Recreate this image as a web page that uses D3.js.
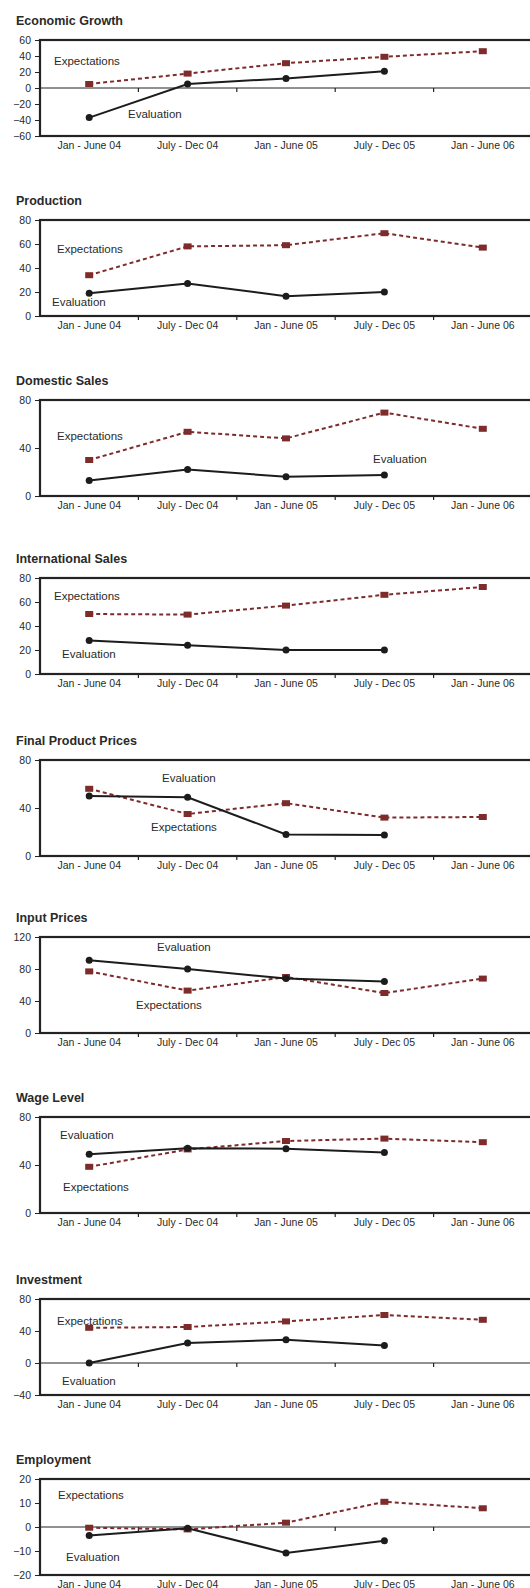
<!DOCTYPE html>
<html>
<head>
<meta charset="utf-8">
<script src="https://cdn.jsdelivr.net/npm/d3@7"></script>
<style>
  body { margin: 0; background: #fff; }
  svg { display: block; font-family: "Liberation Sans", Arial, sans-serif; }
</style>
</head>
<body>
<div id="chart"></div>
<script>
// ---- data ----
const periods = ["Jan - June 04", "July - Dec 04", "Jan - June 05", "July - Dec 05", "Jan - June 06"];

const titles = ["Economic Growth", "Production", "Domestic Sales", "International Sales",
  "Final Product Prices", "Input Prices", "Wage Level", "Investment", "Employment"];

// expectations (5 periods) and evaluation (4 periods), one array per panel
const expGrowth = [5, 18, 31, 39, 46];
const evalGrowth = [-37, 5, 12, 21];
const expProduction = [34, 58, 59, 69, 57];
const evalProduction = [19, 27, 16.5, 20];
const expDomestic = [30, 53.5, 48, 69.5, 56];
const evalDomestic = [13, 22, 16, 17.5];
const expInternational = [50, 49.5, 57, 66, 72.5];
const evalInternational = [28, 24, 20, 20];
const expFinalPrices = [56, 35, 44, 32, 32.5];
const evalFinalPrices = [50, 49, 18, 17.5];
const expInputPrices = [77, 53, 70, 50, 68];
const evalInputPrices = [91, 80, 68, 64.5];
const expWage = [38.5, 53, 60, 62, 59];
const evalWage = [49, 54, 53.5, 50.5];
const expInvestment = [44, 45, 52, 60, 54];
const evalInvestment = [0, 25, 29, 22];
const expEmployment = [-0.3, -1, 1.8, 10.5, 7.8];
const evalEmployment = [-3.5, -0.5, -10.8, -5.7];

// y axis ticks per panel
const ticksGrowth = [-60, -40, -20, 0, 20, 40, 60];
const ticksProduction = [0, 20, 40, 60, 80];
const ticksDomestic = [0, 40, 80];
const ticksInternational = [0, 20, 40, 60, 80];
const ticksFinalPrices = [0, 40, 80];
const ticksInputPrices = [0, 40, 80, 120];
const ticksWage = [0, 40, 80];
const ticksInvestment = [-40, 0, 40, 80];
const ticksEmployment = [-20, -10, 0, 10, 20];

const expectations = [expGrowth, expProduction, expDomestic, expInternational, expFinalPrices,
  expInputPrices, expWage, expInvestment, expEmployment];
const evaluations = [evalGrowth, evalProduction, evalDomestic, evalInternational, evalFinalPrices,
  evalInputPrices, evalWage, evalInvestment, evalEmployment];
const yTicks = [ticksGrowth, ticksProduction, ticksDomestic, ticksInternational, ticksFinalPrices,
  ticksInputPrices, ticksWage, ticksInvestment, ticksEmployment];

// ---- layout ----
const W = 530, H = 1588;
const plotLeft = 40, plotRight = 532, plotH = 96;
const tops = [40, 220, 400, 578, 760, 937, 1117, 1299, 1479];
// annotation positions inside each plot: [x, y] relative to plot top-left
const expLabelPos = [[14, 21], [17, 29], [17, 36], [14, 18], [111, 67], [96, 68], [23, 70], [17, 22], [18, 16]];
const evalLabelPos = [[88, 74], [12, 82], [333, 59], [22, 76], [122, 18], [117, 10], [20, 18], [22, 82], [26, 78]];

const expColor = "#7e2b2b", evalColor = "#1c1c1c", frameColor = "#232323", textColor = "#2a2a2a";

const svg = d3.select("#chart").append("svg")
  .attr("width", W).attr("height", H);

const x = d3.scaleBand().domain(periods).range([plotLeft, plotRight]).padding(0);
const cx = d => x(d) + x.bandwidth() / 2;

titles.forEach((title, i) => {
  const top = tops[i];
  const ticks = yTicks[i];
  const y = d3.scaleLinear().domain(d3.extent(ticks)).range([top + plotH, top]);
  const g = svg.append("g");

  g.append("text")
    .attr("x", 16).attr("y", top - 19).attr("dy", "0.35em")
    .attr("font-size", 12.5).attr("font-weight", "bold").attr("fill", textColor)
    .text(title);

  // y axis ticks + labels
  const ya = g.append("g")
    .attr("transform", `translate(${plotLeft},0)`)
    .call(d3.axisLeft(y).tickValues(ticks).tickSize(5).tickPadding(4).tickFormat(d3.format("d")));
  ya.select(".domain").remove();
  ya.selectAll("line").attr("stroke", frameColor);
  ya.selectAll("text").attr("font-size", 10.5).attr("fill", textColor).attr("font-family", null);

  // category labels
  const xa = g.append("g")
    .attr("transform", `translate(0,${top + plotH + 4})`)
    .call(d3.axisBottom(x).tickSize(0).tickPadding(2));
  xa.select(".domain").remove();
  xa.selectAll("text").attr("font-size", 10.5).attr("fill", textColor).attr("font-family", null);

  // zero line with category boundary ticks
  const y0 = y(Math.max(0, y.domain()[0]));
  if (y.domain()[0] < 0) {
    g.append("line")
      .attr("x1", plotLeft).attr("x2", plotRight).attr("y1", y0).attr("y2", y0)
      .attr("stroke", frameColor).attr("stroke-width", 1);
  }
  g.selectAll(".bt").data(periods.slice(1)).join("line")
    .attr("x1", d => x(d)).attr("x2", d => x(d))
    .attr("y1", y0).attr("y2", y0 + 4)
    .attr("stroke", frameColor).attr("stroke-width", 1.2);

  // frame
  g.append("rect")
    .attr("x", plotLeft).attr("y", top).attr("width", plotRight - plotLeft).attr("height", plotH)
    .attr("fill", "none").attr("stroke", frameColor).attr("stroke-width", 2.2);

  const line = d3.line().x((d, j) => cx(periods[j])).y(d => y(d));

  // expectations
  g.append("path").datum(expectations[i])
    .attr("d", line).attr("fill", "none")
    .attr("stroke", expColor).attr("stroke-width", 2).attr("stroke-dasharray", "4,3");
  g.selectAll(".sq").data(expectations[i]).join("rect")
    .attr("x", (d, j) => cx(periods[j]) - 4).attr("y", d => y(d) - 3)
    .attr("width", 8).attr("height", 6).attr("fill", expColor);

  // evaluation
  g.append("path").datum(evaluations[i])
    .attr("d", line).attr("fill", "none")
    .attr("stroke", evalColor).attr("stroke-width", 2);
  g.selectAll(".dot").data(evaluations[i]).join("circle")
    .attr("cx", (d, j) => cx(periods[j])).attr("cy", d => y(d))
    .attr("r", 3.5).attr("fill", evalColor);

  g.append("text")
    .attr("x", plotLeft + expLabelPos[i][0]).attr("y", top + expLabelPos[i][1]).attr("dy", "0.35em")
    .attr("font-size", 11.5).attr("fill", textColor).text("Expectations");
  g.append("text")
    .attr("x", plotLeft + evalLabelPos[i][0]).attr("y", top + evalLabelPos[i][1]).attr("dy", "0.35em")
    .attr("font-size", 11.5).attr("fill", textColor).text("Evaluation");
});
</script>
</body>
</html>
